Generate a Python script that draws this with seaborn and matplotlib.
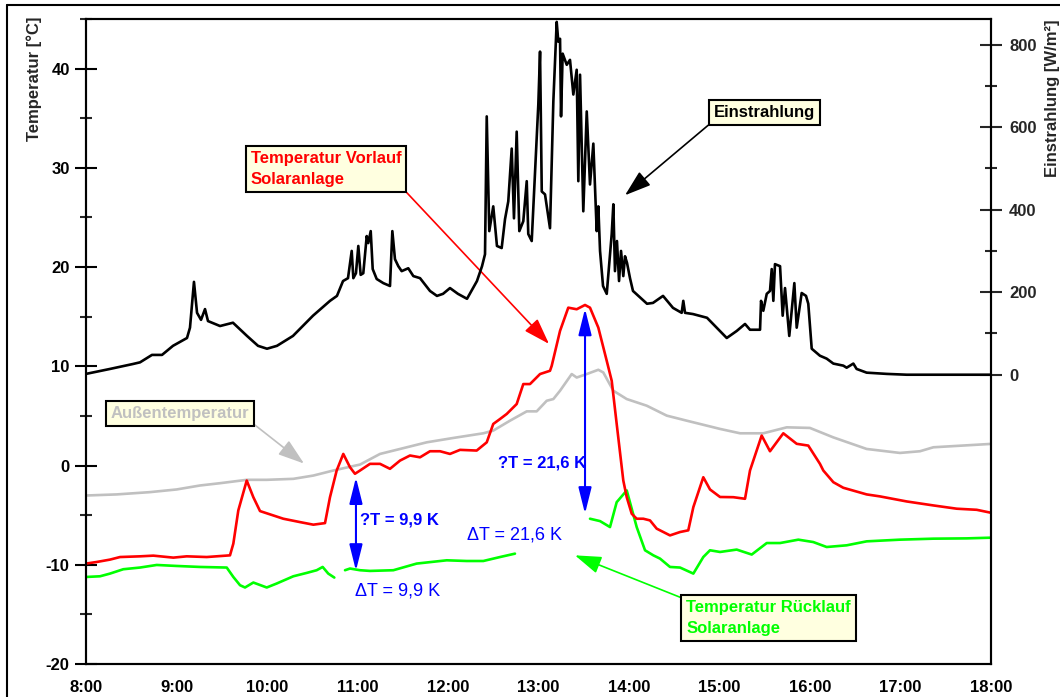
import numpy as np
import pandas as pd
import matplotlib
matplotlib.use("Agg")
import matplotlib.pyplot as plt
import seaborn as sns
from matplotlib.ticker import MultipleLocator, FixedLocator
from matplotlib.lines import Line2D

# ---------------- data ----------------
# time in decimal hours
irr_time = [8.000, 8.265, 8.519, 8.597, 8.729, 8.840, 8.961, 9.116, 9.149, 9.193, 9.227, 9.271,
            9.315, 9.348, 9.481, 9.624, 9.779, 9.901, 10.000, 10.110, 10.287, 10.508, 10.696,
            10.773, 10.840, 10.895, 10.936, 10.954, 10.983, 11.009, 11.035, 11.064, 11.102,
            11.119, 11.146, 11.168, 11.212, 11.285, 11.359, 11.385, 11.414, 11.451, 11.488,
            11.561, 11.617, 11.691, 11.801, 11.878, 11.945, 12.022, 12.110, 12.210, 12.320,
            12.376, 12.409, 12.428, 12.456, 12.500, 12.541, 12.593, 12.630, 12.666, 12.704,
            12.729, 12.759, 12.788, 12.832, 12.870, 12.887, 12.925, 12.998, 13.017, 13.036,
            13.072, 13.127, 13.164, 13.201, 13.219, 13.238, 13.249, 13.267, 13.312, 13.348,
            13.385, 13.422, 13.440, 13.459, 13.495, 13.533, 13.569, 13.606, 13.643, 13.661,
            13.680, 13.713, 13.754, 13.809, 13.827, 13.845, 13.867, 13.890, 13.912, 13.937,
            13.956, 13.978, 14.011, 14.044, 14.199, 14.265, 14.376, 14.486, 14.582, 14.600,
            14.619, 14.707, 14.862, 14.969, 15.080, 15.190, 15.282, 15.337, 15.448, 15.459,
            15.484, 15.522, 15.558, 15.577, 15.595, 15.613, 15.669, 15.698, 15.724, 15.771,
            15.827, 15.853, 15.908, 15.956, 15.981, 16.019, 16.110, 16.184, 16.258, 16.368,
            16.405, 16.479, 16.515, 16.626, 16.848, 17.069, 18.000]
irradiance = [2, 14, 26, 30, 48, 48, 70, 89, 114, 225, 150, 133,
              159, 130, 118, 126, 94, 70, 63, 70, 94, 143, 179,
              191, 227, 234, 300, 234, 246, 312, 242, 246, 336,
              319, 348, 256, 232, 222, 215, 348, 280, 263, 251,
              258, 239, 234, 203, 191, 196, 210, 196, 184, 227,
              263, 292, 626, 348, 408, 312, 307, 377, 420, 548,
              379, 589, 348, 372, 469, 341, 324, 655, 783, 444,
              437, 355, 662, 855, 807, 814, 626, 778, 751, 763,
              679, 739, 469, 727, 396, 638, 461, 560, 348, 408,
              300, 215, 196, 341, 413, 251, 324, 227, 300, 239,
              287, 271, 234, 203, 172, 174, 191, 162, 150, 179,
              150, 147, 138, 114, 89, 106, 123, 109, 109, 179,
              155, 196, 203, 256, 179, 268, 263, 143, 210, 94,
              222, 114, 198, 191, 172, 63, 46, 39, 27, 22,
              17, 27, 14, 5, 2, 0, 0]

vorlauf_time = [8.000, 8.118, 8.265, 8.376, 8.597, 8.744, 8.965, 9.113, 9.334, 9.591, 9.628,
                9.683, 9.776, 9.849, 9.923, 10.070, 10.180, 10.365, 10.512, 10.641, 10.696,
                10.770, 10.843, 10.917, 10.972, 11.028, 11.138, 11.249, 11.359, 11.470, 11.580,
                11.691, 11.801, 11.912, 12.022, 12.133, 12.317, 12.428, 12.500, 12.575, 12.649,
                12.759, 12.832, 12.906, 13.017, 13.127, 13.146, 13.238, 13.329, 13.422, 13.514,
                13.569, 13.661, 13.754, 13.809, 13.864, 13.937, 13.975, 14.030, 14.085, 14.158,
                14.232, 14.306, 14.453, 14.564, 14.655, 14.711, 14.821, 14.895, 15.006, 15.153,
                15.282, 15.337, 15.466, 15.558, 15.705, 15.853, 15.981, 16.110, 16.147, 16.258,
                16.368, 16.626, 16.773, 17.069, 17.363, 17.621, 17.842, 18.000]
vorlauf = [-9.88, -9.72, -9.48, -9.22, -9.15, -9.08, -9.28, -9.15, -9.22, -9.05, -7.87,
           -4.52, -1.51, -3.19, -4.59, -5.03, -5.36, -5.70, -5.96, -5.80, -3.19,
           -0.50, 1.17, -0.17, -0.83, -0.50, 0.17, 0.17, -0.33, 0.50, 1.01,
           0.83, 1.44, 1.44, 1.17, 1.58, 1.51, 2.34, 4.19, 4.69, 5.20,
           6.20, 8.21, 8.21, 9.22, 9.55, 10.05, 13.57, 15.91, 15.75, 16.18,
           15.91, 13.90, 10.55, 8.54, 4.19, -1.51, -3.19, -4.86, -5.36, -5.36,
           -5.53, -6.36, -7.04, -6.70, -6.53, -4.19, -1.18, -2.41, -3.17, -3.19,
           -3.35, -0.50, 3.02, 1.44, 3.25, 2.19, 2.01, 0.17, -0.50, -1.68,
           -2.24, -2.91, -3.11, -3.62, -4.02, -4.35, -4.46, -4.76]

ruecklauf_time = [8.000, 8.155, 8.265, 8.412, 8.597, 8.781, 9.002, 9.260, 9.555, 9.628, 9.702,
                  9.757, 9.849, 9.997, 10.107, 10.291, 10.439, 10.549, 10.615, 10.677, 10.744,
                  10.862, 10.917, 11.028, 11.138, 11.396, 11.654, 11.986, 12.207, 12.390, 12.575,
                  12.740,
                  13.569, 13.680, 13.790, 13.864, 13.975, 14.030, 14.085, 14.177, 14.269, 14.343,
                  14.453, 14.564, 14.711, 14.821, 14.895, 15.006, 15.190, 15.356, 15.522, 15.669,
                  15.871, 16.036, 16.184, 16.405, 16.626, 16.994, 17.363, 17.731, 18.000]
ruecklauf = [-11.23, -11.16, -10.89, -10.45, -10.28, -10.02, -10.12, -10.22, -10.28, -11.23, -12.06,
             -12.29, -11.79, -12.29, -11.89, -11.16, -10.82, -10.55, -10.22, -10.89, -11.29,
             -10.55, -10.38, -10.55, -10.62, -10.55, -9.88, -9.55, -9.62, -9.62, -9.22,
             -8.88,
             -5.36, -5.60, -6.20, -3.69, -2.51, -4.35, -6.20, -8.54, -9.05, -9.38,
             -10.22, -10.28, -10.89, -9.22, -8.54, -8.71, -8.47, -8.97, -7.81, -7.81,
             -7.47, -7.71, -8.21, -8.04, -7.64, -7.47, -7.37, -7.34, -7.27]
# segment id (the curve is interrupted behind the labels)
ruecklauf_seg = [0] * 21 + [1] * 11 + [2] * 29

aussen_time = [8.000, 8.339, 8.707, 9.002, 9.260, 9.481, 9.776, 9.997, 10.291, 10.512, 10.733,
               11.028, 11.249, 11.470, 11.765, 12.059, 12.390, 12.500, 12.685, 12.870, 12.980,
               13.091, 13.164, 13.238, 13.367, 13.422, 13.533, 13.661, 13.716, 13.827, 13.975,
               14.196, 14.417, 14.638, 15.006, 15.227, 15.484, 15.743, 15.999, 16.257, 16.626,
               16.994, 17.215, 17.363, 18.000]
aussen = [-3.02, -2.91, -2.68, -2.41, -2.01, -1.78, -1.44, -1.44, -1.34, -1.01, -0.50,
          0.10, 1.17, 1.67, 2.34, 2.78, 3.25, 3.52, 4.52, 5.46, 5.46,
          6.53, 6.70, 7.54, 9.22, 8.87, 9.22, 9.65, 9.38, 7.54, 6.70,
          6.03, 5.03, 4.52, 3.69, 3.25, 3.25, 3.85, 3.79, 2.84, 1.67,
          1.27, 1.44, 1.84, 2.18]

hour_ticks = list(range(8, 19))
hour_labels = [f"{h}:00" for h in hour_ticks]
irr_ticks = [0, 200, 400, 600, 800]

# delta-T markers: (time, upper temp, lower temp)
dt1 = (10.983, -1.2, -10.6)
dt2 = (13.514, 15.8, -4.85)

# ---------------- styling ----------------
sns.set_style("white")
plt.rcParams['font.family'] = ['Liberation Sans', 'DejaVu Sans']
plt.rcParams['axes.unicode_minus'] = False

RED = "#FF0000"
GREEN = "#00FF00"
GREY = "#C0C0C0"
BLUE = "#0000FF"
BOXFC = "#FFFFE0"

fig = plt.figure(figsize=(10.6, 6.97), dpi=100)
W, H = 1060, 697
ax = fig.add_axes([86 / W, 33 / H, 905 / W, 645 / H])
ax2 = ax.twinx()

df_a = pd.DataFrame({"t": aussen_time, "T": aussen})
df_v = pd.DataFrame({"t": vorlauf_time, "T": vorlauf})
df_r = pd.DataFrame({"t": ruecklauf_time, "T": ruecklauf, "seg": ruecklauf_seg})
df_i = pd.DataFrame({"t": irr_time, "E": irradiance})

lw = 1.9
sns.lineplot(data=df_a, x="t", y="T", ax=ax, color=GREY, lw=lw, estimator=None, legend=False)
sns.lineplot(data=df_r, x="t", y="T", units="seg", ax=ax, color=GREEN, lw=lw, estimator=None, legend=False)
sns.lineplot(data=df_v, x="t", y="T", ax=ax, color=RED, lw=lw, estimator=None, legend=False)
sns.lineplot(data=df_i, x="t", y="E", ax=ax2, color="black", lw=lw, estimator=None, legend=False)

ax.set_xlim(8, 18)
ax.set_ylim(-20, 45)
ax2.set_ylim(-701, 862)
ax.set_xlabel("")
ax.set_ylabel("")
ax2.set_ylabel("")

ax.set_xticks(hour_ticks)
ax.set_xticklabels(hour_labels)
ax.xaxis.set_minor_locator(MultipleLocator(0.25))
ax.yaxis.set_major_locator(MultipleLocator(10))
ax.yaxis.set_minor_locator(MultipleLocator(5))
ax2.yaxis.set_major_locator(FixedLocator(irr_ticks))
ax2.yaxis.set_minor_locator(FixedLocator([100, 300, 500, 700]))

for a in (ax, ax2):
    for sp in a.spines.values():
        sp.set_linewidth(1.5)
        sp.set_color("black")

ax.tick_params(axis="both", which="major", direction="inout", length=15.5, width=1.5,
               labelsize=12, pad=4, colors="black")
ax.tick_params(axis="both", which="minor", direction="inout", length=8, width=1.5)
ax.tick_params(axis="y", right=False, labelright=False)
ax.tick_params(axis="x", top=False)
ax2.tick_params(axis="y", which="major", direction="inout", length=16, width=1.5,
                labelsize=12, pad=5, left=False, right=True)
ax2.tick_params(axis="y", which="minor", direction="inout", length=8.5, width=1.5,
                left=False, right=True)
for lab in ax.get_xticklabels() + ax.get_yticklabels() + ax2.get_yticklabels():
    lab.set_fontweight("bold")

fig.text(34 / W, 1 - 79 / H, "Temperatur [°C]", rotation=90, ha="center", va="center",
         fontsize=12, fontweight="bold")
fig.text(1053 / W, 1 - 98 / H, "Einstrahlung [W/m²]", rotation=90, ha="center", va="center",
         fontsize=12, fontweight="bold")

# outer frame (left and top edges visible)
fig.add_artist(Line2D([7 / W, 7 / W], [0, 1 - 5 / H], transform=fig.transFigure, color="black", lw=1.5))
fig.add_artist(Line2D([7 / W, 1], [1 - 5 / H, 1 - 5 / H], transform=fig.transFigure, color="black", lw=1.5))

# ---------------- annotations ----------------
def label_box(text, color, xy, xytext, relpos, lwa=1.2):
    ax.annotate(text, xy=xy, xytext=xytext, textcoords="data", ha="center", va="center",
                fontsize=12, fontweight="bold", color=color, linespacing=1.5,
                multialignment="left", zorder=6,
                bbox=dict(boxstyle="square,pad=0.3", fc=BOXFC, ec="black", lw=1.5),
                arrowprops=dict(arrowstyle="-|>,head_length=0.9,head_width=0.3", mutation_scale=18,
                                color=color, lw=lwa, relpos=relpos, shrinkA=0, shrinkB=0))

label_box("Einstrahlung", "black", (13.956, 27.24), (15.497, 35.53), (0, 0))
label_box("Temperatur Vorlauf\nSolaranlage", RED, (13.116, 12.26), (10.652, 29.90), (1, 0))
label_box("Außentemperatur", GREY, (10.409, 0.20), (9.039, 5.28), (1, 0))
label_box("Temperatur Rücklauf\nSolaranlage", GREEN, (13.403, -9.05), (15.541, -15.33), (0, 1))

for (t, top, bot) in (dt1, dt2):
    ax.annotate("", xy=(t, top), xytext=(t, bot), textcoords="data", zorder=5,
                arrowprops=dict(arrowstyle="<|-|>,head_length=1.6,head_width=0.4",
                                mutation_scale=10, color=BLUE, lw=1.5, shrinkA=0, shrinkB=0))

ax.text(11.028, -5.53, "?T = 9,9 K", color=BLUE, fontsize=12, fontweight="bold", ha="left", va="center")
ax.text(12.552, 0.30, "?T = 21,6 K", color=BLUE, fontsize=12, fontweight="bold", ha="left", va="center")
ax.text(12.210, -7.04, "ΔT = 21,6 K", color=BLUE, fontsize=13, ha="left", va="center")
ax.text(10.972, -12.66, "ΔT = 9,9 K", color=BLUE, fontsize=13, ha="left", va="center")

fig.savefig("out.png", dpi=100)
